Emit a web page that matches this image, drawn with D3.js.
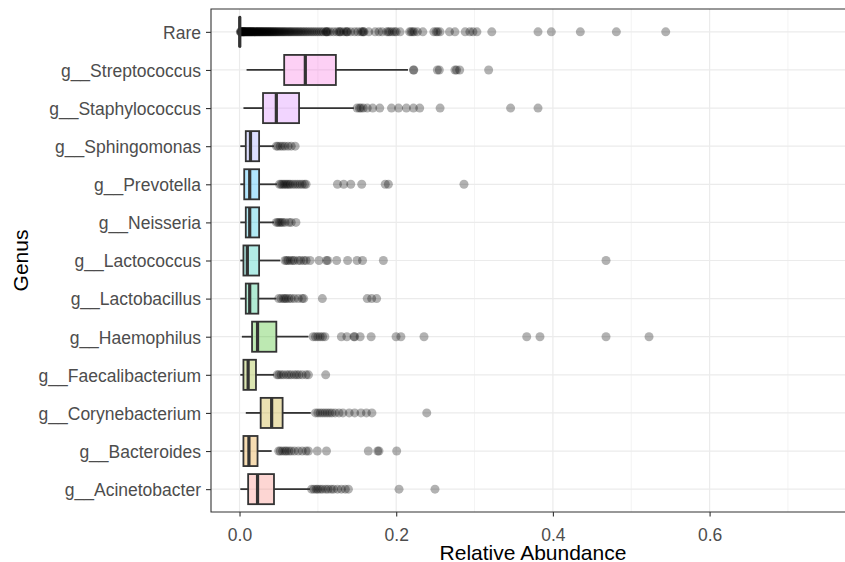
<!DOCTYPE html>
<html>
<head>
<meta charset="utf-8">
<script src="https://cdn.jsdelivr.net/npm/d3@7"></script>
<style>
body { margin: 0; background: #fff; overflow: hidden; }
svg { display: block; font-family: "Liberation Sans", Arial, sans-serif; }
</style>
</head>
<body>
<script>
// Genus order, top to bottom as shown
var genus = ["Rare", "g__Streptococcus", "g__Staphylococcus", "g__Sphingomonas", "g__Prevotella",
  "g__Neisseria", "g__Lactococcus", "g__Lactobacillus", "g__Haemophilus", "g__Faecalibacterium",
  "g__Corynebacterium", "g__Bacteroides", "g__Acinetobacter"]

// box stats
var whiskerLo = [0, 0.009, 0.005, 0.001, 0.001, 0.001, 0.001, 0.001, 0.003, 0.001, 0.008, 0.001, 0.001]
var q1 =        [0, 0.057, 0.030, 0.008, 0.006, 0.008, 0.005, 0.008, 0.016, 0.005, 0.027, 0.005, 0.011]
var median =    [0.0003, 0.084, 0.047, 0.014, 0.013, 0.013, 0.010, 0.013, 0.023, 0.011, 0.041, 0.012, 0.023]
var q3 =        [0.0008, 0.123, 0.076, 0.025, 0.025, 0.025, 0.025, 0.024, 0.047, 0.021, 0.055, 0.023, 0.044]
var whiskerHi = [0.002, 0.215, 0.146, 0.044, 0.048, 0.044, 0.052, 0.047, 0.088, 0.044, 0.091, 0.041, 0.090]

// outliers per genus
var outliers = [
  [0.001,0.0015,0.002,0.0025,0.003,0.0035,0.004,0.0045,0.005,0.0055,0.006,0.0065,0.007,0.0078,0.0085,0.009,0.0098,
   0.0105,0.011,0.0118,0.0125,0.013,0.0138,0.0145,0.015,0.0158,0.0165,0.0172,0.018,0.0188,0.0195,0.0203,0.021,0.0218,
   0.0226,0.0235,0.0242,0.025,0.0259,0.0267,0.0275,0.0284,0.0292,0.03,0.031,0.0319,0.0328,0.0337,0.0346,0.0355,0.0365,
   0.0374,0.0384,0.0393,0.0403,0.0413,0.0423,0.0434,0.0445,0.0455,0.0466,0.0478,0.049,0.0502,0.0514,0.0527,0.054,
   0.0553,0.0567,0.058,0.0594,0.061,0.0625,0.064,0.0655,0.067,0.0688,0.0705,0.0722,0.074,0.0758,0.0776,0.0795,0.0815,
   0.0835,0.0856,0.0877,0.09,0.0923,0.0946,0.097,0.0995,0.102,0.1045,0.107,0.11,0.1108,0.1115,0.113,0.116,0.12,0.124,
   0.127,0.128,0.1295,0.133,0.136,0.137,0.138,0.142,0.147,0.151,0.155,0.157,0.158,0.159,0.165,0.173,0.178,0.182,0.188,
   0.19,0.192,0.195,0.198,0.2,0.205,0.217,0.219,0.221,0.223,0.227,0.234,0.248,0.251,0.253,0.256,0.268,0.275,0.288,
   0.294,0.298,0.303,0.322,0.381,0.398,0.435,0.481,0.544],
  [0.222,0.2225,0.2525,0.255,0.275,0.277,0.281,0.318],
  [0.150,0.153,0.155,0.158,0.163,0.170,0.179,0.194,0.203,0.213,0.222,0.230,0.256,0.346,0.381],
  [0.047,0.049,0.052,0.055,0.058,0.062,0.066,0.071],
  [0.051,0.053,0.055,0.057,0.059,0.061,0.063,0.065,0.068,0.071,0.074,0.077,0.080,0.083,0.085,0.125,0.133,0.142,0.156,0.186,0.190,0.2865],
  [0.047,0.049,0.051,0.053,0.055,0.058,0.063,0.066,0.072],
  [0.058,0.06,0.062,0.065,0.068,0.07,0.075,0.078,0.082,0.085,0.09,0.1015,0.111,0.1125,0.124,0.138,0.150,0.157,0.1836,0.4678],
  [0.050,0.053,0.056,0.058,0.060,0.063,0.066,0.07,0.075,0.08,0.082,0.1057,0.163,0.1687,0.175],
  [0.094,0.097,0.1,0.103,0.106,0.109,0.130,0.137,0.146,0.147,0.154,0.168,0.1998,0.206,0.2355,0.3666,0.3835,0.4678,0.5227],
  [0.048,0.05,0.053,0.056,0.06,0.063,0.066,0.07,0.073,0.076,0.08,0.085,0.088,0.110],
  [0.097,0.1,0.103,0.106,0.109,0.112,0.115,0.118,0.122,0.127,0.132,0.14,0.147,0.155,0.162,0.169,0.239],
  [0.05,0.052,0.055,0.058,0.06,0.063,0.066,0.07,0.075,0.08,0.085,0.088,0.0993,0.111,0.1644,0.1764,0.178,0.2006],
  [0.092,0.095,0.098,0.1,0.103,0.106,0.11,0.113,0.117,0.12,0.125,0.13,0.135,0.139,0.2036,0.2495]
]

var xTicks = [0, 0.2, 0.4, 0.6]
var xMinor = [0.1, 0.3, 0.5, 0.7]

// ggplot hue colours, same order as genus
var palette = ["#FF65AC", "#F962DD", "#D575FE", "#8B93FF", "#00ACFC", "#00BBDA", "#00C1AB",
  "#00BE70", "#24B700", "#8CAB00", "#BE9C00", "#E18A00", "#F8766D"]

var w = 845, h = 562
// the panel runs past the right edge of the picture
var panel = {left: 211, right: 900, top: 9, bottom: 512}
var dark = "#333333"

var svg = d3.select("body").append("svg")
  .attr("width", w)
  .attr("height", h)

var xScale = d3.scaleLinear()
  .domain([-0.0364, 0.7856])
  .range([211, 855])

var yScale = d3.scalePoint()
  .domain(genus)
  .range([panel.top, panel.bottom])
  .padding(0.6)

var boxH = yScale.step() * 0.79

var plot = svg.append("g")

// grid
plot.selectAll(".minor").data(xMinor).enter().append("line")
  .attr("x1", function (d) { return xScale(d) }).attr("x2", function (d) { return xScale(d) })
  .attr("y1", panel.top).attr("y2", panel.bottom)
  .attr("stroke", "#EBEBEB").attr("stroke-width", 0.6)
plot.selectAll(".major").data(xTicks).enter().append("line")
  .attr("x1", function (d) { return xScale(d) }).attr("x2", function (d) { return xScale(d) })
  .attr("y1", panel.top).attr("y2", panel.bottom)
  .attr("stroke", "#EBEBEB").attr("stroke-width", 1.2)
plot.selectAll(".hgrid").data(genus).enter().append("line")
  .attr("x1", panel.left).attr("x2", w)
  .attr("y1", function (d) { return yScale(d) }).attr("y2", function (d) { return yScale(d) })
  .attr("stroke", "#EBEBEB").attr("stroke-width", 1.2)

// outlier points
var pts = []
genus.forEach(function (g, i) {
  outliers[i].forEach(function (v) { pts.push({g: g, v: v}) })
})
plot.selectAll(".pt").data(pts).enter().append("circle")
  .attr("cx", function (d) { return xScale(d.v) })
  .attr("cy", function (d) { return yScale(d.g) })
  .attr("r", 4.5)
  .attr("fill", "#000")
  .attr("fill-opacity", 0.3)

// boxes
var boxes = plot.selectAll(".box").data(genus).enter().append("g")

boxes.append("line")
  .attr("x1", function (d, i) { return xScale(whiskerLo[i]) })
  .attr("x2", function (d, i) { return xScale(q1[i]) })
  .attr("y1", function (d) { return yScale(d) }).attr("y2", function (d) { return yScale(d) })
  .attr("stroke", dark).attr("stroke-width", 1.8)
boxes.append("line")
  .attr("x1", function (d, i) { return xScale(q3[i]) })
  .attr("x2", function (d, i) { return xScale(whiskerHi[i]) })
  .attr("y1", function (d) { return yScale(d) }).attr("y2", function (d) { return yScale(d) })
  .attr("stroke", dark).attr("stroke-width", 1.8)
boxes.append("rect")
  .attr("x", function (d, i) { return xScale(q1[i]) })
  .attr("width", function (d, i) { return xScale(q3[i]) - xScale(q1[i]) })
  .attr("y", function (d) { return yScale(d) - boxH / 2 })
  .attr("height", boxH)
  .attr("fill", function (d, i) { return palette[i] })
  .attr("fill-opacity", 0.3)
  .attr("stroke", dark).attr("stroke-width", 1.8)
boxes.append("line")
  .attr("x1", function (d, i) { return xScale(median[i]) })
  .attr("x2", function (d, i) { return xScale(median[i]) })
  .attr("y1", function (d) { return yScale(d) - boxH / 2 })
  .attr("y2", function (d) { return yScale(d) + boxH / 2 })
  .attr("stroke", dark).attr("stroke-width", 3.2)

// panel border: top, left and bottom only, the right side is off the picture
svg.append("path")
  .attr("d", "M" + w + "," + panel.top + "H" + panel.left + "V" + panel.bottom + "H" + w)
  .attr("fill", "none").attr("stroke", dark).attr("stroke-width", 1.1)

// axes
var xAxis = svg.append("g")
  .attr("transform", "translate(0," + panel.bottom + ")")
  .call(d3.axisBottom(xScale).tickValues(xTicks).tickFormat(d3.format(".1f")).tickSize(4.5))
xAxis.select(".domain").remove()
xAxis.selectAll("line").attr("stroke", dark).attr("stroke-width", 1.1)
xAxis.selectAll("text")
  .attr("y", 29).attr("dy", null)
  .attr("fill", "#4D4D4D")
  .style("font-size", "17.5px")
  .style("font-family", "Liberation Sans, Arial, sans-serif")

var yAxis = svg.append("g")
  .attr("transform", "translate(" + panel.left + ",0)")
  .call(d3.axisLeft(yScale).tickSize(5).tickPadding(5))
yAxis.select(".domain").remove()
yAxis.selectAll("line").attr("stroke", dark).attr("stroke-width", 1.1)
yAxis.selectAll("text")
  .attr("dy", "0.36em")
  .attr("fill", "#4D4D4D")
  .style("font-size", "17.5px")
  .style("font-family", "Liberation Sans, Arial, sans-serif")

// titles
svg.append("text")
  .attr("x", 533).attr("y", 560)
  .attr("text-anchor", "middle")
  .style("font-size", "21px")
  .attr("fill", "#000")
  .text("Relative Abundance")

svg.append("text")
  .attr("transform", "translate(28," + ((panel.top + panel.bottom) / 2) + ") rotate(-90)")
  .attr("text-anchor", "middle")
  .style("font-size", "21px")
  .attr("fill", "#000")
  .text("Genus")
</script>
</body>
</html>
